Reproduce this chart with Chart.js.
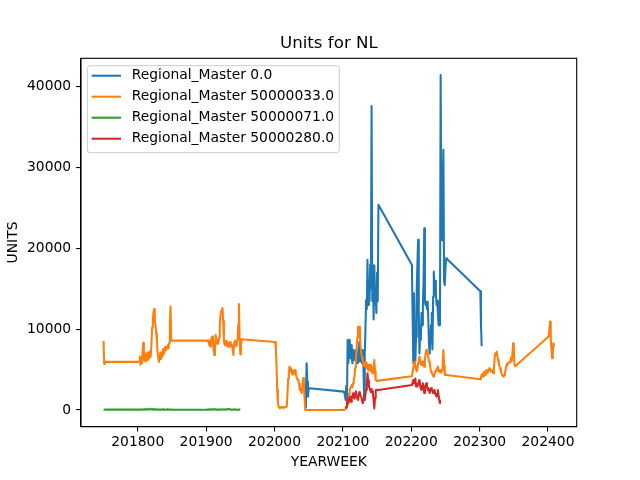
<!DOCTYPE html>
<html>
<head>
<meta charset="utf-8">
<script src="https://cdn.jsdelivr.net/npm/chart.js@4.4.1/dist/chart.umd.min.js"></script>
<style>
  html, body { margin: 0; padding: 0; background: #fff; }
  canvas { display: block; }
</style>
</head>
<body>
<canvas id="unitsChart" width="640" height="480"></canvas>
<script>
// tick labels
const xTicks = [201800, 201900, 202000, 202100, 202200, 202300, 202400];
const yTicks = [0, 10000, 20000, 30000, 40000];

const seriesLabels = ['Regional_Master 0.0', 'Regional_Master 50000033.0', 'Regional_Master 50000071.0', 'Regional_Master 50000280.0'];
const seriesColors = ['#1f77b4', '#ff7f0e', '#2ca02c', '#d62728'];

// Regional_Master 0.0 (weekly, starts 202044)
const blue2020 = [200, 300, 2000, 5780, 3500, 1650, 2690, 2650, 2690];
const blue2021 = [2270, 2200, 1800, 1240, 3000, 1240, 8670, 5780, 7000, 8670, 6400, 8000, 6500, 5780, 7400, 6200, 6400, 7200, 6000, 7500,
  5800, 7000, 6500, 8400, 6000, 7200, 6500, 5800, 7400, 5800, 1500, 7000, 10000, 13600, 12500, 18600, 13000, 16000, 13500, 18000,
  15000, 37600, 13500, 17800, 11200, 17900, 13000, 15000, 12000, 17000, 13500, 25400];
const blue2022 = [17950, 11760, 5800, 14450, 10500, 6000, 9000, 15000, 18000, 21050, 12000, 7000, 9500, 8700, 12000, 10500, 13000, 16000, 22490, 13400,
  13000, 13400, 12500, 13400, 11000, 8000, 7000, 9000, 10500, 12000, 7500, 14000, 17120, 15000, 16000, 14500, 13000, 13500, 12000, 10500,
  11500, 10500, 41450, 24000, 21000, 24140, 32190, 16000, 15470, 17500, 18780, 18700];
const blue2023 = [14700, 10500, 7900];

// Regional_Master 50000033.0 (weekly, starts 201750)
const orange2017 = [8550, 5700, 5950];
const orange2018 = [5950, 6000, 6600, 5600, 5800, 6200, 7000, 8300, 6200, 7100, 6000, 6800, 6400, 7100, 6200, 6700, 6400, 7300, 6600, 8000,
  10200, 11100, 12000, 12500, 11000, 10500, 9500, 8600, 7200, 6500, 5950, 6600, 7100, 6300, 7000, 6600, 7500, 6900, 7200, 7800,
  7400, 7800, 7600, 8000, 7600, 8300, 11000, 12800, 8600, 8600, 8550, 8580];
const orange2019 = [8580, 8500, 8600, 8300, 8000, 7840, 8580, 8900, 9080, 8400, 7500, 6800, 7600, 9300, 8600, 8200, 8700, 8200, 9000, 10500,
  11760, 12200, 12400, 12600, 11000, 8580, 8100, 8000, 8500, 8580, 7900, 8300, 8100, 7800, 8400, 8200, 7900, 8000, 7400, 6800,
  8300, 8580, 7900, 8000, 8400, 8600, 10500, 13100, 9000, 6900, 8200, 8750];
const orange2020 = [8400, 7500, 5500, 2500, 900, 400, 300, 200, 250, 400, 350, 300, 250, 350, 300, 350, 400, 600, 2000, 3900,
  4600, 5360, 4800, 5200, 4700, 4400, 4900, 4500, 4700, 4950, 4400, 4200, 3900, 3700, 3710, 3200, 2480, 2700, 2300, 2100,
  3000, 3960, 3300, 1500, 0, 0, 0, 0, 0, 0, 0, 0];
const orange2021 = [0, 0, 0, 100, 200, 200, 600, 1240, 2000, 2480, 2700, 2900, 3100, 2800, 3300, 3800, 4130, 5200, 6190, 7500,
  9000, 10300, 10200, 10300, 9000, 7800, 7000, 6500, 6200, 5800, 5400, 5600, 6000, 5800, 5200, 5400, 4900, 5600, 5000, 5600,
  4800, 5300, 4600, 4500, 5200, 6190, 4800, 3700, 3650, 3600, 3650, 3630];
const orange2022 = [4180, 4600, 5360, 5800, 5980, 5400, 5000, 4800, 4950, 5800, 6300, 6600, 6000, 5700, 5570, 6000, 5980, 5500, 5360, 6200,
  7000, 7430, 7200, 7020, 6500, 6000, 5780, 5200, 4750, 4600, 4400, 4200, 4120, 4400, 4750, 4900, 4950, 5200, 5360, 4750,
  4900, 4700, 4800, 4600, 5000, 6000, 7430, 5500, 4330, 4300, 4350, 4330];
const orange2023 = [3800, 4100, 4330, 4500, 4130, 4400, 4750, 4500, 4330, 4950, 4600, 4750, 4900, 5160, 4900, 4750, 4900, 4950, 4700, 4540,
  5200, 6500, 7020, 6800, 7220, 6700, 6190, 5800, 5400, 5160, 4800, 4540, 4300, 4200, 4130, 4300, 4540, 5000, 5500, 5780,
  5700, 5780, 5900, 5850, 5980, 6500, 6000, 7000, 8260, 7430, 5600, 5400];
const orange2024 = [9080, 10000, 10930, 8870, 7500, 6400, 7300, 8260, 7840];

// Regional_Master 50000071.0 (weekly, starts 201750)
const green2017 = [30, 20, 40];
const green2018 = [40, 30, 60, 20, 50, 80, 40, 30, 70, 100, 60, 40, 120, 80, 50, 30, 90, 150, 110, 60,
  40, 80, 130, 70, 50, 40, 60, 90, 40, 30, 70, 50, 40, 60, 30, 50, 80, 40, 60, 30,
  40, 50, 70, 40, 30, 50, 60, 40, 30, 50, 40, 30];
const green2019 = [40, 60, 30, 50, 80, 40, 30, 60, 90, 50, 40, 70, 110, 60, 40, 30, 80, 50, 40, 60,
  30, 50, 70, 40, 60, 90, 50, 40, 30, 60, 80, 120, 150, 90, 60, 40, 50, 30, 60, 40,
  70, 50, 40, 30, 60, 40, 30, 50, 40, 20];

// Regional_Master 50000280.0 (weekly, starts 202104)
const red2021 = [200, 400, 900, 1400, 830, 1300, 1650, 1200, 1000, 1700, 1500, 2060, 1800, 1400, 1900, 2300, 1800, 1500, 1240, 1800,
  2200, 2060, 1700, 1650, 1200, 830, 1100, 1500, 1240, 1900, 2480, 3200, 4540, 3710, 3000, 2700, 2480, 2200, 2600, 2300,
  2060, 1200, 200, 1500, 2480, 2480, 2500, 2450, 2480];
const red2022 = [3100, 3400, 3710, 3300, 3600, 3900, 2900, 3200, 2890, 3300, 3500, 3710, 3000, 2700, 2480, 3000, 3300, 2700, 2100, 2800,
  3000, 3300, 2900, 2480, 2700, 2400, 2100, 2500, 2700, 2600, 2300, 2100, 2300, 2480, 2000, 1900, 1650, 2000, 2480, 1800,
  1200, 830];

// consecutive weeks starting at a YEARWEEK
function weekly(startYearWeek, values) {
    return values.map((v, i) => ({ x: startYearWeek + i, y: v }));
}

const seriesPoints = [
    [].concat(weekly(202044, blue2020), weekly(202101, blue2021), weekly(202201, blue2022), weekly(202301, blue2023)),
    [].concat(weekly(201750, orange2017), weekly(201801, orange2018), weekly(201901, orange2019), weekly(202001, orange2020),
        weekly(202101, orange2021), weekly(202201, orange2022), weekly(202301, orange2023), weekly(202401, orange2024)),
    [].concat(weekly(201750, green2017), weekly(201801, green2018), weekly(201901, green2019)),
    [].concat(weekly(202104, red2021), weekly(202201, red2022))
];

// matplotlib-like 5% margins
const allX = seriesPoints.flat().map(p => p.x);
const allY = seriesPoints.flat().map(p => p.y);
const xLo = Math.min(...allX), xHi = Math.max(...allX);
const yLo = Math.min(...allY), yHi = Math.max(...allY);
const xPad = (xHi - xLo) * 0.05, yPad = (yHi - yLo) * 0.05;

const FONT = 'DejaVu Sans';
const PX10 = 13.89;
const LINE_W = 2.08;

const boxLegend = {
    id: 'boxLegend',
    afterDatasetsDraw(chart) {
        const ctx = chart.ctx;
        const area = chart.chartArea;
        const left = area.left + 6.3, top = area.top + 7.4, w = 252, h = 87, r = 3;
        ctx.save();
        ctx.beginPath();
        ctx.roundRect(left, top, w, h, r);
        ctx.fillStyle = 'rgba(255,255,255,0.8)';
        ctx.fill();
        ctx.strokeStyle = '#cccccc';
        ctx.lineWidth = 1;
        ctx.stroke();
        ctx.font = PX10 + 'px "' + FONT + '"';
        ctx.textBaseline = 'middle';
        ctx.fillStyle = '#000';
        chart.data.datasets.forEach((ds, i) => {
            const y = top + 10 + i * 21;
            ctx.beginPath();
            ctx.moveTo(left + 4.4, y);
            ctx.lineTo(left + 33.7, y);
            ctx.strokeStyle = ds.borderColor;
            ctx.lineWidth = LINE_W;
            ctx.stroke();
            ctx.fillText(ds.label, left + 44.4, y);
        });
        ctx.restore();
    },
    afterDraw(chart) {
        const ctx = chart.ctx;
        const a = chart.chartArea;
        ctx.save();
        ctx.strokeStyle = '#000';
        ctx.lineWidth = 1.1;
        ctx.strokeRect(a.left, a.top, a.right - a.left, a.bottom - a.top);
        ctx.restore();
    }
};

const ctx = document.getElementById('unitsChart').getContext('2d');
const unitsChart = new Chart(ctx, {
    type: 'line',
    data: {
        datasets: seriesLabels.map((label, i) => ({
            label: label,
            data: seriesPoints[i],
            borderColor: seriesColors[i],
            backgroundColor: seriesColors[i],
            borderWidth: LINE_W,
            pointRadius: 0,
            tension: 0,
            fill: false,
            borderJoinStyle: 'round',
            order: seriesLabels.length - i
        }))
    },
    options: {
        responsive: false,
        devicePixelRatio: 1,
        animation: false,
        layout: { padding: { left: 0, right: 63.3, top: 0, bottom: 0 } },
        plugins: {
            legend: { display: false },
            tooltip: { enabled: false },
            title: {
                display: true,
                text: 'Units for NL',
                fullSize: false,
                color: '#000',
                font: { family: FONT, size: 16.67, weight: 'normal' },
                padding: { top: 33.3, bottom: 5 }
            }
        },
        scales: {
            x: {
                type: 'linear',
                min: xLo - xPad,
                max: xHi + xPad,
                afterFit(scale) { scale.height = 53.3; },
                afterBuildTicks(scale) { scale.ticks = xTicks.map(v => ({ value: v })); },
                ticks: {
                    autoSkip: false,
                    maxRotation: 0,
                    padding: 3,
                    color: '#000',
                    font: { family: FONT, size: PX10 },
                    callback: v => String(v)
                },
                grid: { drawOnChartArea: false, drawTicks: true, tickLength: 4.86, color: '#000', lineWidth: 1.1 },
                border: { display: true, color: '#000', width: 1.1 },
                title: {
                    display: true,
                    text: 'YEARWEEK',
                    color: '#000',
                    font: { family: FONT, size: PX10 },
                    padding: { top: 0, bottom: 9.7 }
                }
            },
            y: {
                type: 'linear',
                min: yLo - yPad,
                max: yHi + yPad,
                afterFit(scale) { scale.width = 81; },
                afterBuildTicks(scale) { scale.ticks = yTicks.map(v => ({ value: v })); },
                ticks: {
                    padding: 5,
                    color: '#000',
                    font: { family: FONT, size: PX10 },
                    callback: v => String(v)
                },
                grid: { drawOnChartArea: false, drawTicks: true, tickLength: 4.86, color: '#000', lineWidth: 1.1 },
                border: { display: true, color: '#000', width: 1.1 },
                title: {
                    display: true,
                    text: 'UNITS',
                    color: '#000',
                    font: { family: FONT, size: PX10 },
                    padding: { top: 5, bottom: 0 }
                }
            }
        }
    },
    plugins: [boxLegend]
});
</script>
</body>
</html>
